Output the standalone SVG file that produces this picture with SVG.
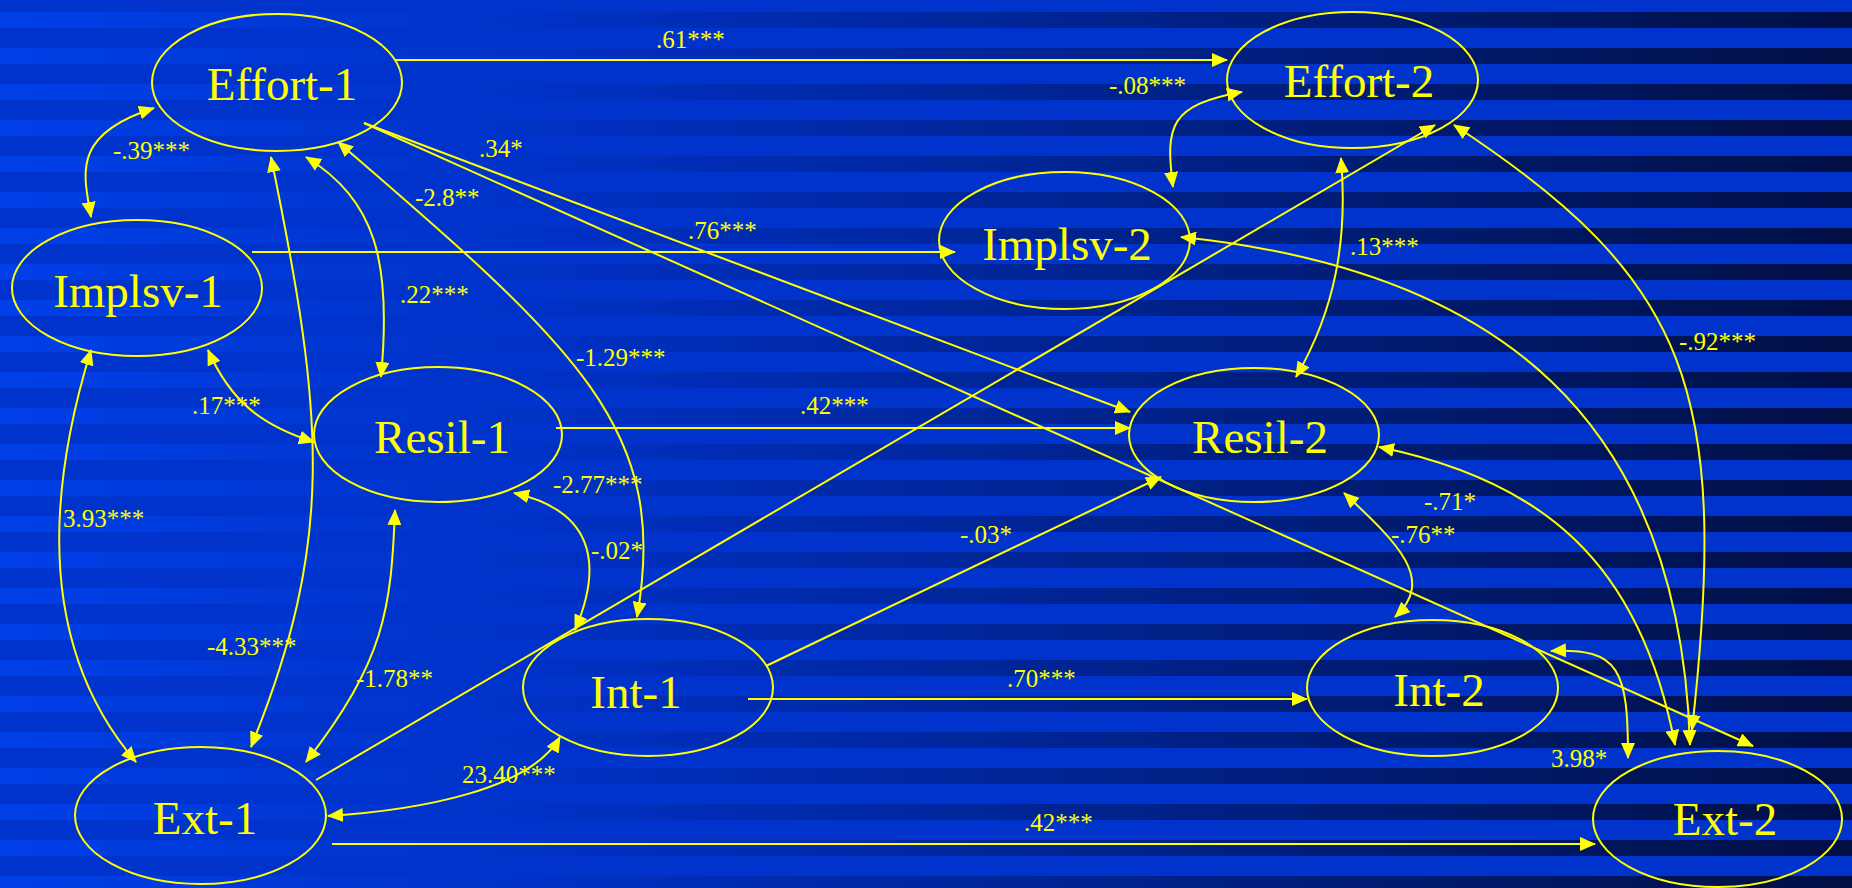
<svg xmlns="http://www.w3.org/2000/svg" width="1852" height="888" viewBox="0 0 1852 888">
<defs>
<linearGradient id="sg" gradientUnits="userSpaceOnUse" x1="0" y1="0" x2="1852" y2="0">
<stop offset="0" stop-color="#0040e8"/>
<stop offset="0.3" stop-color="#0031c4"/>
<stop offset="1" stop-color="#000f44"/>
</linearGradient>
<pattern id="stripes" patternUnits="userSpaceOnUse" x="0" y="0" width="1852" height="36">
<rect x="0" y="0" width="1852" height="36" fill="#0033cc"/>
<rect x="0" y="12" width="1852" height="16" fill="url(#sg)"/>
</pattern>
<marker id="ah" markerUnits="userSpaceOnUse" markerWidth="16" markerHeight="14" refX="15" refY="7" orient="auto-start-reverse" viewBox="0 0 16 14">
<path d="M0,0 L16,7 L0,14 z" fill="#ffff00"/>
</marker>
</defs>
<style>
.node ellipse{fill:none;stroke:#ffff00;stroke-width:2}
.node text{font-family:"Liberation Serif","Times New Roman",serif;font-size:47px;fill:#ffff00;text-anchor:middle}
.lbl{font-family:"Liberation Serif","Times New Roman",serif;font-size:25px;fill:#ffff00}
#connectors path{fill:none;stroke:#ffff00;stroke-width:2}
.one{marker-end:url(#ah)}
.two{marker-start:url(#ah);marker-end:url(#ah)}
</style>
<rect x="0" y="0" width="1852" height="888" fill="url(#stripes)"/>

<g id="connectors">
<path class="one" d="M395,60 L1227,60"/>
<path class="one" d="M252,252 L955,252"/>
<path class="one" d="M556,428 L1130,428"/>
<path class="one" d="M748,699 L1307,699"/>
<path class="one" d="M332,844 L1595,844"/>
<path class="one" d="M364,123 L1130,412"/>
<path class="one" d="M364,123 L1753,746"/>
<path class="one" d="M316,780 L1435,125"/>
<path class="one" d="M766,666 L1161,477"/>
<path class="two" d="M154,108 C70,135 84,175 91,217"/>
<path class="two" d="M271,157 C325,420 335,540 251,747"/>
<path class="two" d="M306,157 C375,200 392,260 381,377"/>
<path class="two" d="M338,142 C580,350 670,430 637,617"/>
<path class="two" d="M208,350 C230,400 260,425 314,442"/>
<path class="two" d="M91,350 C45,500 40,650 136,762"/>
<path class="two" d="M395,510 C391,610 385,660 306,762"/>
<path class="two" d="M514,493 C590,510 605,560 575,630"/>
<path class="two" d="M560,737 C530,790 420,810 328,816"/>
<path class="two" d="M1242,92 C1170,105 1165,125 1173,187"/>
<path class="two" d="M1341,158 C1348,240 1335,310 1296,377"/>
<path class="two" d="M1454,125 C1690,280 1730,390 1692,730"/>
<path class="two" d="M1181,237 C1500,270 1680,420 1690,745"/>
<path class="two" d="M1379,447 C1540,480 1640,560 1675,745"/>
<path class="two" d="M1344,493 C1400,545 1435,580 1395,617"/>
<path class="two" d="M1551,651 C1620,648 1628,670 1628,758"/>
</g>

<g id="labels">
<text class="lbl" x="656" y="48">.61***</text>
<text class="lbl" x="688" y="239">.76***</text>
<text class="lbl" x="800" y="414">.42***</text>
<text class="lbl" x="1007" y="687">.70***</text>
<text class="lbl" x="1024" y="831">.42***</text>
<text class="lbl" x="479" y="157">.34*</text>
<text class="lbl" x="415" y="206">-2.8**</text>
<text class="lbl" x="113" y="159">-.39***</text>
<text class="lbl" x="400" y="303">.22***</text>
<text class="lbl" x="576" y="366">-1.29***</text>
<text class="lbl" x="192" y="414">.17***</text>
<text class="lbl" x="63" y="527">3.93***</text>
<text class="lbl" x="207" y="655">-4.33***</text>
<text class="lbl" x="356" y="687">-1.78**</text>
<text class="lbl" x="553" y="493">-2.77***</text>
<text class="lbl" x="591" y="559">-.02*</text>
<text class="lbl" x="462" y="783">23.40***</text>
<text class="lbl" x="960" y="543">-.03*</text>
<text class="lbl" x="1109" y="94">-.08***</text>
<text class="lbl" x="1350" y="255">.13***</text>
<text class="lbl" x="1679" y="350">-.92***</text>
<text class="lbl" x="1424" y="510">-.71*</text>
<text class="lbl" x="1391" y="543">-.76**</text>
<text class="lbl" x="1551" y="767">3.98*</text>
</g>

<g id="effort1" class="node"><ellipse cx="277" cy="82.5" rx="125" ry="68.5"/><text x="282" y="100">Effort-1</text></g>
<g id="implsv1" class="node"><ellipse cx="137" cy="288" rx="125" ry="68"/><text x="138" y="307">Implsv-1</text></g>
<g id="resil1" class="node"><ellipse cx="438" cy="434.5" rx="124" ry="67.5"/><text x="442" y="453">Resil-1</text></g>
<g id="int1" class="node"><ellipse cx="648" cy="687.5" rx="125" ry="68.5"/><text x="636" y="708">Int-1</text></g>
<g id="ext1" class="node"><ellipse cx="200.5" cy="815.5" rx="125.5" ry="68.5"/><text x="205" y="834">Ext-1</text></g>
<g id="effort2" class="node"><ellipse cx="1352.5" cy="80" rx="125.5" ry="68"/><text x="1359" y="97">Effort-2</text></g>
<g id="implsv2" class="node"><ellipse cx="1064.5" cy="240.5" rx="125.5" ry="68.5"/><text x="1067" y="260">Implsv-2</text></g>
<g id="resil2" class="node"><ellipse cx="1254" cy="435" rx="125" ry="67"/><text x="1260" y="453">Resil-2</text></g>
<g id="int2" class="node"><ellipse cx="1432.5" cy="688" rx="125.5" ry="68"/><text x="1439" y="706">Int-2</text></g>
<g id="ext2" class="node"><ellipse cx="1717.5" cy="819" rx="124.5" ry="68"/><text x="1725" y="835">Ext-2</text></g>
</svg>
